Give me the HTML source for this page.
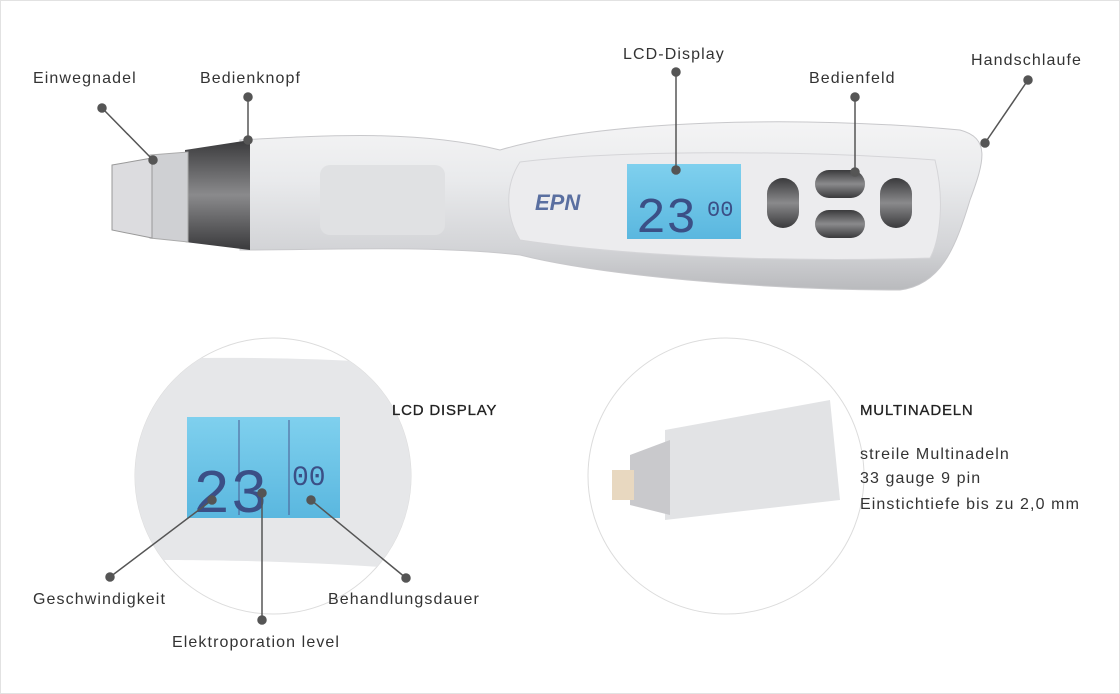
<!DOCTYPE html>
<html><head><meta charset="utf-8"><style>
body{margin:0;background:#fff;}
svg{display:block;font-family:"Liberation Sans",sans-serif;}
</style></head><body>
<svg width="1120" height="694" viewBox="0 0 1120 694">
<defs>
<linearGradient id="body" x1="0" y1="0" x2="0" y2="1">
<stop offset="0" stop-color="#f4f4f5"/><stop offset="0.35" stop-color="#e9eaec"/><stop offset="0.75" stop-color="#d3d4d7"/><stop offset="1" stop-color="#b9babd"/></linearGradient>
<linearGradient id="lcd" x1="0" y1="0" x2="0" y2="1"><stop offset="0" stop-color="#7fd0ee"/><stop offset="1" stop-color="#5ab7df"/></linearGradient>
<linearGradient id="dark" x1="0" y1="0" x2="0" y2="1"><stop offset="0" stop-color="#3a3a3c"/><stop offset="0.5" stop-color="#8a8a8c"/><stop offset="1" stop-color="#3a3a3c"/></linearGradient>
<clipPath id="c1"><circle cx="273" cy="476" r="138"/></clipPath>
<clipPath id="c2"><circle cx="726" cy="476" r="138"/></clipPath>
</defs>
<rect x="0.5" y="0.5" width="1119" height="693" fill="#fff" stroke="#e2e2e2"/>
<path d="M240,140 C330,135 420,130 500,150 C600,120 800,115 960,130 C990,138 985,160 970,200 C955,250 940,285 900,290 C760,290 600,275 520,255 C430,245 330,250 240,250 Z" fill="url(#body)" stroke="#c8c8cb"/>
<path d="M520,162 C620,150 800,150 935,160 C945,200 940,240 930,258 C800,262 640,258 520,240 C505,215 505,185 520,162Z" fill="#ececee" stroke="#d5d5d8"/>
<rect x="320" y="165" width="125" height="70" rx="10" fill="#e0e1e3"/>
<path d="M185,150 L250,140 L250,250 L185,242 Z" fill="url(#dark)"/>
<path d="M150,155 L188,152 L188,242 L150,238 Z" fill="#cfd0d3" stroke="#aaa"/>
<path d="M112,165 L152,158 L152,238 L112,230 Z" fill="#dcdcdf" stroke="#999"/>
<text x="535" y="210" font-size="22" font-style="italic" font-weight="bold" fill="#5a6fa0">EPN</text>
<rect x="627" y="164" width="114" height="75" fill="url(#lcd)"/>
<text x="636" y="232" font-size="50" fill="#3b4f86" font-family="Liberation Mono">23</text>
<text x="707" y="216" font-size="22" fill="#3b4f86" font-family="Liberation Mono">00</text>
<rect x="767" y="178" width="32" height="50" rx="16" fill="url(#dark)"/>
<rect x="815" y="170" width="50" height="28" rx="14" fill="url(#dark)"/>
<rect x="815" y="210" width="50" height="28" rx="14" fill="url(#dark)"/>
<rect x="880" y="178" width="32" height="50" rx="16" fill="url(#dark)"/>
<circle cx="273" cy="476" r="138" fill="#fff" stroke="#dcdcdc"/>
<g clip-path="url(#c1)">
<path d="M130,360 C250,355 350,360 420,365 L420,570 C300,560 200,560 130,560Z" fill="#e6e7e9"/>
<rect x="187" y="417" width="153" height="101" fill="url(#lcd)"/>
<line x1="239" y1="420" x2="239" y2="515" stroke="#4a5a90" stroke-width="1"/>
<line x1="289" y1="420" x2="289" y2="515" stroke="#4a5a90" stroke-width="1"/>
<text x="193" y="512" font-size="62" fill="#3b4f86" font-family="Liberation Mono">23</text>
<text x="292" y="485" font-size="28" fill="#3b4f86" font-family="Liberation Mono">00</text>
</g>
<circle cx="726" cy="476" r="138" fill="#fff" stroke="#dcdcdc"/>
<g clip-path="url(#c2)">
<path d="M665,430 L830,400 L840,500 L665,520Z" fill="#e2e3e5"/>
<path d="M630,455 L670,440 L670,515 L630,505Z" fill="#c9c9cc"/>
<rect x="612" y="470" width="22" height="30" fill="#e8d8c0"/>
</g>
<g stroke="#555" stroke-width="1.5" fill="#555">
<line x1="102" y1="108" x2="153" y2="160"/><circle cx="102" cy="108" r="4"/><circle cx="153" cy="160" r="4"/>
<line x1="248" y1="97" x2="248" y2="140"/><circle cx="248" cy="97" r="4"/><circle cx="248" cy="140" r="4"/>
<line x1="676" y1="72" x2="676" y2="170"/><circle cx="676" cy="72" r="4"/><circle cx="676" cy="170" r="4"/>
<line x1="855" y1="97" x2="855" y2="172"/><circle cx="855" cy="97" r="4"/><circle cx="855" cy="172" r="4"/>
<line x1="1028" y1="80" x2="985" y2="143"/><circle cx="1028" cy="80" r="4"/><circle cx="985" cy="143" r="4"/>
<line x1="110" y1="577" x2="212" y2="500"/><circle cx="110" cy="577" r="4"/><circle cx="212" cy="500" r="4"/>
<line x1="262" y1="620" x2="262" y2="493"/><circle cx="262" cy="620" r="4"/><circle cx="262" cy="493" r="4"/>
<line x1="406" y1="578" x2="311" y2="500"/><circle cx="406" cy="578" r="4"/><circle cx="311" cy="500" r="4"/>
</g>
<g font-size="16" fill="#333" letter-spacing="1.1">
<text x="33" y="83">Einwegnadel</text>
<text x="200" y="83">Bedienknopf</text>
<text x="623" y="59">LCD-Display</text>
<text x="809" y="83">Bedienfeld</text>
<text x="971" y="65">Handschlaufe</text>
<text x="33" y="604">Geschwindigkeit</text>
<text x="172" y="647">Elektroporation level</text>
<text x="328" y="604">Behandlungsdauer</text>
<text x="392" y="415" font-size="15" letter-spacing="0.8" fill="#222" stroke="#222" stroke-width="0.3">LCD DISPLAY</text>
<text x="860" y="415" font-size="15" letter-spacing="0.8" fill="#222" stroke="#222" stroke-width="0.3">MULTINADELN</text>
<text x="860" y="459">streile Multinadeln</text>
<text x="860" y="483">33 gauge 9 pin</text>
<text x="860" y="509">Einstichtiefe bis zu 2,0 mm</text>
</g>
</svg>
</body></html>
